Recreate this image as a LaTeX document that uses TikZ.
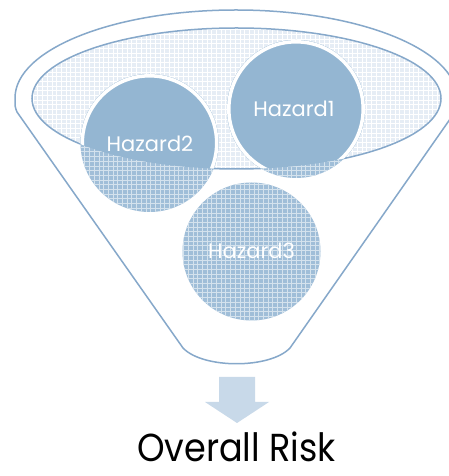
\documentclass[tikz,border=0pt]{standalone}
\usepackage{fontspec}
\setmainfont{Poppins}
\newfontfamily\riskfont{Poppins}[FakeStretch=0.9]
\usetikzlibrary{patterns}
\definecolor{funnelLine}{RGB}{134,168,202}
\definecolor{hazSolid}{RGB}{148,182,210}
\definecolor{hazMesh}{RGB}{160,190,216}
\definecolor{rimMesh}{RGB}{230,237,245}
\definecolor{arrowFill}{RGB}{200,217,233}

% white mesh laid over the tinted fills
\pgfdeclarepatternformonly{meshgrid}{\pgfqpoint{-1pt}{-1pt}}{\pgfqpoint{5.7pt}{5.7pt}}{\pgfqpoint{4.7pt}{4.7pt}}%
{
  \pgfsetlinewidth{0.4pt}
  \pgfpathmoveto{\pgfqpoint{0pt}{0pt}}
  \pgfpathlineto{\pgfqpoint{0pt}{4.8pt}}
  \pgfpathmoveto{\pgfqpoint{0pt}{0pt}}
  \pgfpathlineto{\pgfqpoint{4.8pt}{0pt}}
  \pgfusepath{stroke}
}

\tikzset{
    rim/.style={draw=funnelLine, line width=1.5pt},
    meshfill/.style={preaction={fill=#1}, pattern=meshgrid, pattern color=white!55!#1},
    mouthsize/.style={x radius=204.5, y radius=70.5},
    hazdisc/.style={circle, minimum size=138pt, inner sep=0pt, meshfill=hazMesh},
    hazlabel/.style={anchor=base, text=white, font=\fontsize{21}{21}\selectfont},
    risklabel/.style={anchor=base, inner sep=0pt, text=black, font=\riskfont\fontsize{39}{39}\selectfont}
}

\begin{document}
\begin{tikzpicture}[x=1pt, y=1pt]
    \useasboundingbox[fill=white] (0,0) rectangle (449,476);

    % funnel body
    \draw[rim] (183,128) -- (17,364) .. controls (15,369) .. (15,378)
        arc[start angle=180, end angle=0, x radius=221, y radius=88]
        .. controls (457,369) .. (455,364) -- (290,128)
        .. controls (270,107) and (203,107) .. cycle;

    % mouth of the funnel
    \coordinate (mouthc) at (236.5,377.5);
    \path[meshfill=rimMesh, pattern color=white] (mouthc) ellipse[mouthsize];
    \draw[rim] (mouthc) ellipse[mouthsize];

    % hazards
    \node[hazdisc] (haz1) at (296,367) {};
    \node[hazdisc] (haz2) at (149.5,333) {};
    \node[hazdisc] (haz3) at (251.5,224.5) {};
    \begin{scope}
        \clip (mouthc) ellipse[mouthsize];
        \foreach \h in {haz1,haz2}{
            \fill[hazSolid] (\h.center) circle[radius=69];
            \draw[white, line width=3.5pt] (\h.center) circle[radius=67.2];
        }
    \end{scope}
    \node[hazlabel] (lbl1) at (294,359.3) {Hazard1};
    \node[hazlabel] (lbl2) at (150,324.3) {Hazard2};
    \node[hazlabel] (lbl3) at (251.5,217.7) {Hazard3};

    % outflow
    \fill[arrowFill] (219,99) -- (255,99) -- (255,74) -- (269,74) -- (237,53)
        -- (205,74) -- (219,74) -- cycle;
    \node[risklabel] (risk) at (236.5,14) {Overall Risk};
\end{tikzpicture}
\end{document}
